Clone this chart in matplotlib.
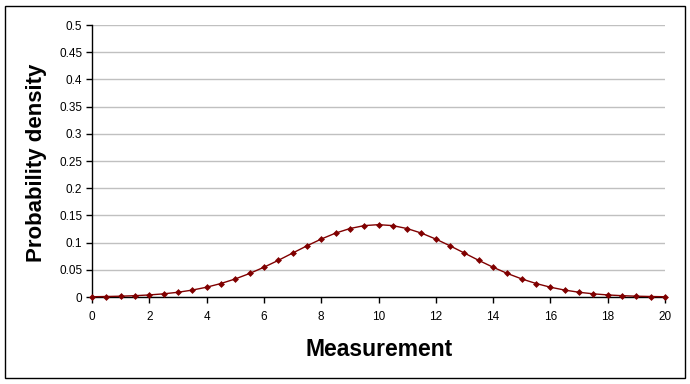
import matplotlib
matplotlib.use('Agg')
import matplotlib.pyplot as plt
from matplotlib.patches import Rectangle
from matplotlib.ticker import FuncFormatter

plt.rcParams['font.family'] = ['Liberation Sans', 'DejaVu Sans']

measurement = [0, 0.5, 1, 1.5, 2, 2.5, 3, 3.5, 4, 4.5, 5, 5.5, 6, 6.5, 7, 7.5,
               8, 8.5, 9, 9.5, 10, 10.5, 11, 11.5, 12, 12.5, 13, 13.5, 14, 14.5,
               15, 15.5, 16, 16.5, 17, 17.5, 18, 18.5, 19, 19.5, 20]
density = [0.0005, 0.0009, 0.0015, 0.0024, 0.0038, 0.0058, 0.0087, 0.0127,
           0.0180, 0.0248, 0.0332, 0.0432, 0.0547, 0.0673, 0.0807, 0.0940,
           0.1065, 0.1174, 0.1258, 0.1312, 0.1330, 0.1312, 0.1258, 0.1174,
           0.1065, 0.0940, 0.0807, 0.0673, 0.0547, 0.0432, 0.0332, 0.0248,
           0.0180, 0.0127, 0.0087, 0.0058, 0.0038, 0.0024, 0.0015, 0.0009,
           0.0005]

x_ticks = [0, 2, 4, 6, 8, 10, 12, 14, 16, 18, 20]
y_ticks = [0, 0.05, 0.1, 0.15, 0.2, 0.25, 0.3, 0.35, 0.4, 0.45, 0.5]

fig = plt.figure(figsize=(6.9, 3.84), dpi=100)
ax = fig.add_axes([92 / 690, 1 - 297 / 384, (665 - 92) / 690, (297 - 25) / 384])

# outer border like the excel chart area
fig.patches.append(Rectangle((5 / 690, 6 / 384), 680 / 690, 372 / 384,
                             transform=fig.transFigure, fill=False,
                             edgecolor='black', linewidth=1))

ax.plot(measurement, density, color='#800000', linewidth=1,
        marker='D', markersize=3, markeredgewidth=0.5,
        markeredgecolor='#800000', clip_on=False, zorder=3)

ax.set_xlim(0, 20)
ax.set_ylim(0, 0.5)
ax.set_xticks(x_ticks)
ax.set_yticks(y_ticks)
ax.yaxis.set_major_formatter(FuncFormatter(lambda v, p: '%g' % round(v, 2)))
ax.tick_params(direction='out', length=4, width=1, labelsize=8.5, pad=3, color='black')
ax.tick_params(axis='x', pad=6)

ax.grid(axis='y', color='#c0c0c0', linewidth=1)
ax.set_axisbelow(True)
for s in ['top', 'right']:
    ax.spines[s].set_visible(False)
for s in ['left', 'bottom']:
    ax.spines[s].set_linewidth(1)

fig.text(37 / 690, 1 - 163 / 384, 'Probability density', rotation=90,
         ha='center', va='center', fontsize=16, fontweight='bold')
fig.text(379 / 690, 1 - 349 / 384, 'Measurement', ha='center', va='center',
         fontsize=16.5, fontweight='bold')

fig.savefig('out.png', dpi=100)
